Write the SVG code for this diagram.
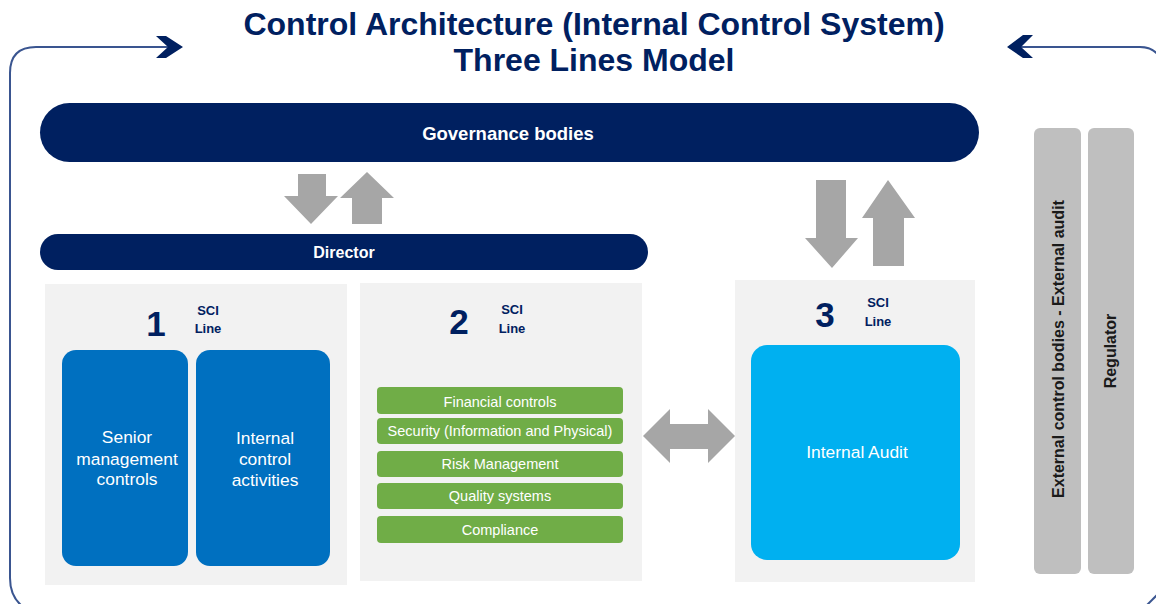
<svg xmlns="http://www.w3.org/2000/svg" width="1156" height="604" viewBox="0 0 1156 604">
  <style>
    .navy { fill: #002060; }
    .title { font-family: "Liberation Sans", Arial, sans-serif; font-weight: bold; font-size: 32px; fill: #002060; text-anchor: middle; }
    .bar-label { font-family: "Liberation Sans", Arial, sans-serif; font-weight: bold; fill: #ffffff; text-anchor: middle; }
    .panel { fill: #f2f2f2; }
    .num { font-family: "Liberation Sans", Arial, sans-serif; font-weight: bold; font-size: 35px; fill: #002060; text-anchor: middle; }
    .sci { font-family: "Liberation Sans", Arial, sans-serif; font-weight: bold; font-size: 13px; fill: #002060; text-anchor: middle; }
    .box-text { font-family: "Liberation Sans", Arial, sans-serif; font-size: 17.4px; fill: #ffffff; text-anchor: middle; }
    .green { fill: #70ad47; }
    .green-text { font-family: "Liberation Sans", Arial, sans-serif; font-size: 14.5px; fill: #ffffff; text-anchor: middle; }
    .grey-arrow { fill: #a6a6a6; }
    .ext { fill: #bfbfbf; }
    .ext-text { font-family: "Liberation Sans", Arial, sans-serif; font-weight: bold; font-size: 16px; fill: #1a1a1a; text-anchor: middle; }
    .frame { fill: none; stroke: #3a5590; stroke-width: 2; }
  </style>

  <!-- title -->
  <g id="title">
    <text class="title" x="594" y="35">Control Architecture (Internal Control System)</text>
    <text class="title" x="594" y="71">Three Lines Model</text>
  </g>

  <!-- surrounding frame with chevrons -->
  <g id="frame">
    <path class="frame" d="M 168 47 H 36 Q 10 47 10 73 V 578 Q 10 596 22 606"/>
    <polygon class="navy" points="156,36 166,36 183,47 166,58 156,58 168,47"/>
    <path class="frame" d="M 1020 47 H 1140 Q 1154 47 1160 58"/>
    <polygon class="navy" points="1033,35 1023,35 1007,47 1023,58 1033,58 1021,47"/>
    <path class="frame" d="M 1146 606 Q 1152 600 1158 594"/>
  </g>

  <!-- governance bodies -->
  <g id="governance">
    <rect class="navy" x="40" y="103" width="939" height="59" rx="29.5"/>
    <text class="bar-label" x="508" y="140" font-size="18.5">Governance bodies</text>
  </g>

  <!-- director -->
  <g id="director">
    <rect class="navy" x="40" y="234" width="608" height="36" rx="18"/>
    <text class="bar-label" x="344" y="258" font-size="16">Director</text>
  </g>

  <!-- line 1 -->
  <g id="line1">
    <rect class="panel" x="45" y="284" width="302" height="301"/>
    <text class="num" x="156" y="336">1</text>
    <text class="sci" x="208" y="315">SCI</text>
    <text class="sci" x="208" y="333">Line</text>
    <rect x="62" y="350" width="126" height="216" rx="14" fill="#0070c0"/>
    <text class="box-text" x="127" y="443">Senior</text>
    <text class="box-text" x="127" y="465">management</text>
    <text class="box-text" x="127" y="485">controls</text>
    <rect x="196" y="350" width="134" height="216" rx="14" fill="#0070c0"/>
    <text class="box-text" x="265" y="444">Internal</text>
    <text class="box-text" x="265" y="465">control</text>
    <text class="box-text" x="265" y="486">activities</text>
  </g>

  <!-- line 2 -->
  <g id="line2">
    <rect class="panel" x="360" y="283" width="282" height="298"/>
    <text class="num" x="459" y="334">2</text>
    <text class="sci" x="512" y="314">SCI</text>
    <text class="sci" x="512" y="333">Line</text>
    <rect class="green" x="377" y="387" width="246" height="27" rx="4"/>
    <text class="green-text" x="500" y="407">Financial controls</text>
    <rect class="green" x="377" y="418" width="246" height="26" rx="4"/>
    <text class="green-text" x="500" y="436">Security (Information and Physical)</text>
    <rect class="green" x="377" y="451" width="246" height="26" rx="4"/>
    <text class="green-text" x="500" y="469">Risk Management</text>
    <rect class="green" x="377" y="483" width="246" height="26" rx="4"/>
    <text class="green-text" x="500" y="501">Quality systems</text>
    <rect class="green" x="377" y="516" width="246" height="27" rx="4"/>
    <text class="green-text" x="500" y="535">Compliance</text>
  </g>

  <!-- line 3 -->
  <g id="line3">
    <rect class="panel" x="735" y="280" width="240" height="302"/>
    <text class="num" x="825" y="327">3</text>
    <text class="sci" x="878" y="307">SCI</text>
    <text class="sci" x="878" y="326">Line</text>
    <rect x="751" y="345" width="209" height="215" rx="16" fill="#00b0f0"/>
    <text class="box-text" x="857" y="458">Internal Audit</text>
  </g>

  <!-- external bodies -->
  <g id="external-audit">
    <rect class="ext" x="1034" y="128" width="47" height="446" rx="6"/>
    <text class="ext-text" transform="translate(1064,349) rotate(-90)">External control bodies - External audit</text>
  </g>
  <g id="regulator">
    <rect class="ext" x="1088" y="128" width="46" height="446" rx="6"/>
    <text class="ext-text" transform="translate(1116,351) rotate(-90)">Regulator</text>
  </g>

  <!-- connectors -->
  <g id="connectors">
    <!-- governance <-> director -->
    <polygon class="grey-arrow" points="298,174 326,174 326,196 338,196 311,224 284,196 298,196"/>
    <polygon class="grey-arrow" points="367,172 394,198 382,198 382,224 352,224 352,198 340,198"/>
    <!-- governance <-> line 3 -->
    <polygon class="grey-arrow" points="816,180 846,180 846,238 858,238 832,268 805,238 816,238"/>
    <polygon class="grey-arrow" points="888,180 915,218 904,218 904,266 873,266 873,218 862,218"/>
    <!-- line 2 <-> line 3 -->
    <polygon class="grey-arrow" points="643,436 670,409 670,424 708,424 708,409 735,436 708,463 708,449 670,449 670,463"/>
  </g>
</svg>
